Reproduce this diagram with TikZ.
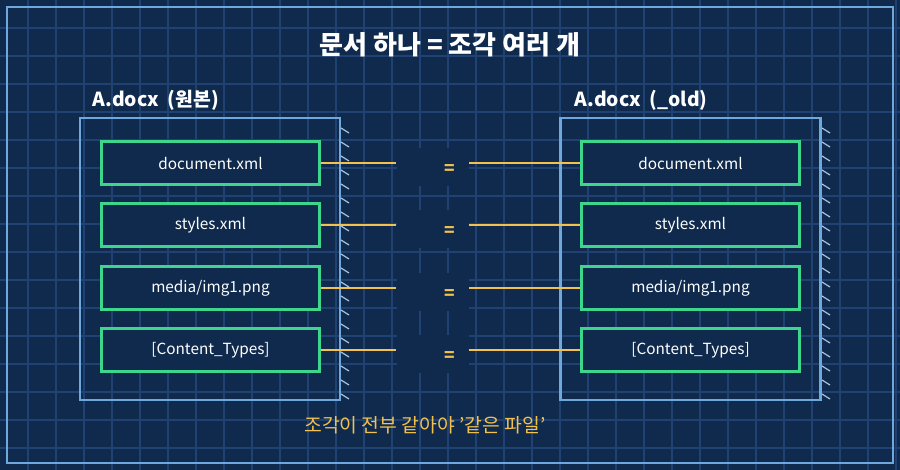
\documentclass[tikz,border=0pt]{standalone}
\usepackage{fontspec}
\setmainfont{Noto Sans CJK KR}
\usepackage{tikz}
\usetikzlibrary{positioning}

\definecolor{bgblue}{HTML}{0F2A4D}
\definecolor{gridblue}{HTML}{1F4272}
\definecolor{frameblue}{HTML}{6FA8DC}
\definecolor{partgreen}{HTML}{3DD68C}
\definecolor{linkgold}{HTML}{F2C14E}
\definecolor{hatchgrey}{HTML}{A9C4DC}

\tikzset{
  docbox/.style={draw=frameblue, line width=2.2pt, minimum width=195pt, minimum height=211.5pt, inner sep=0pt},
  part/.style={draw=partgreen, line width=2.2pt, fill=bgblue, minimum width=164pt, minimum height=32pt,
    text=white, font=\fontsize{11.5}{13}\selectfont, inner sep=0pt},
  link/.style={draw=linkgold, line width=1.3pt},
  eqsign/.style={fill=bgblue, minimum width=54pt, minimum height=28pt, inner sep=0pt},
  doclabel/.style={text=white, font=\bfseries\fontsize{14.5}{16}\selectfont, anchor=west}
}

\begin{document}
\begin{tikzpicture}[x=0.75pt,y=-0.75pt]
\useasboundingbox (0,0) rectangle (900,470);

% background and grid
\fill[bgblue] (0,0) rectangle (900,470);
\foreach \gx in {28,56,...,896} \draw[gridblue, line width=0.9pt] (\gx,0) -- (\gx,470);
\foreach \gy in {28,56,...,468} \draw[gridblue, line width=0.9pt] (0,\gy) -- (900,\gy);
\draw[frameblue, line width=2pt] (7,7) rectangle (893,463);

% title
\node[text=white, font=\bfseries\fontsize{19.5}{22}\selectfont] (title) at (450,45) {문서 하나 = 조각 여러 개};

% containers
\node[docbox] (left) at (210,259) {};
\node[docbox] (right) at (690.5,259) {};
\node[doclabel] (leftlabel) at (88,100) {A.docx\ \ (원본)};
\node[doclabel] (rightlabel) at (570,100) {A.docx\ \ (\_old)};

% hatch marks
\foreach \hy in {128,142,...,394} {
  \draw[hatchgrey, line width=0.9pt] (341,\hy) -- (349,\hy+5);
  \draw[hatchgrey, line width=0.9pt] (822,\hy) -- (830,\hy+5);
}

% parts and links
\foreach \name/\txt/\py in {doc/document.xml/163, sty/styles.xml/225, med/media\slash img1.png/288, ct/{[Content\_Types]}/350} {
  \node[part] (l\name) at (210.5,\py) {\txt};
  \node[part] (r\name) at (690.5,\py) {\txt};
  \node[eqsign] (eq\name) at (432.5,\py+4) {};
  \node[text=linkgold, font=\bfseries\fontsize{13}{15}\selectfont] (sign\name) at (450,\py+7) {=};
  \coordinate (gl\name) at (396,\py);
  \coordinate (gr\name) at (469,\py);
  \draw[link] (l\name.east) -- (gl\name);
  \draw[link] (gr\name) -- (r\name.west);
}

% caption
\node[text=linkgold, font=\fontsize{14.5}{16}\selectfont] (caption) at (425,425) {조각이 전부 같아야 '같은 파일'};
\end{tikzpicture}
\end{document}
